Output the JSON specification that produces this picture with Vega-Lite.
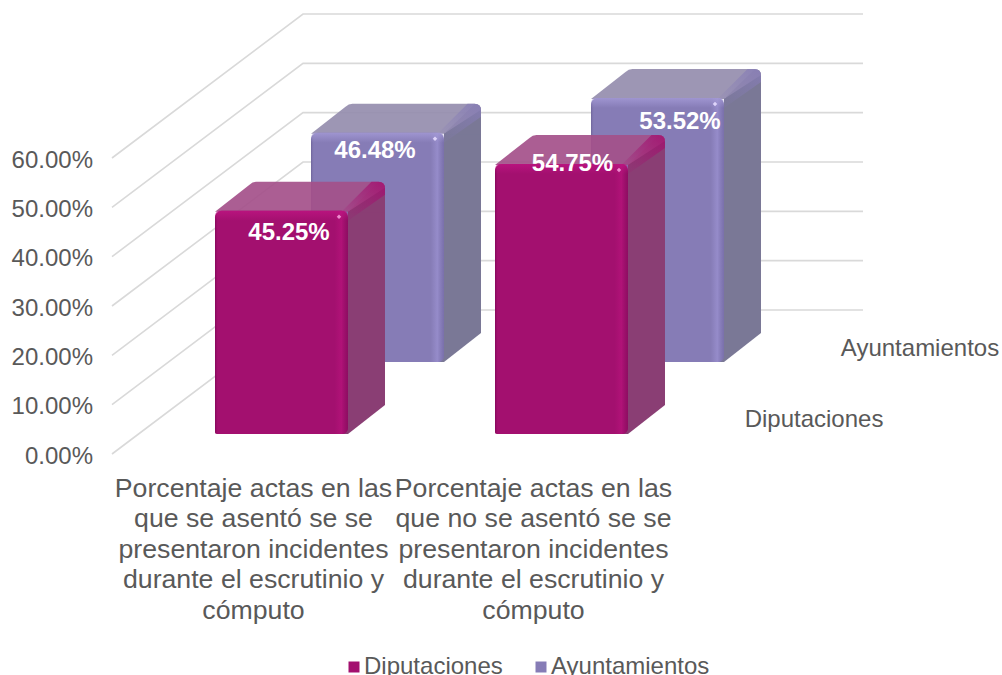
{"$schema":"https://vega.github.io/schema/vega-lite/v6.json","width":1002,"height":675,"padding":0,"autosize":"none","background":"#ffffff",
"config":{"view":{"stroke":null},"font":"Liberation Sans"},
"datasets":{"bars":[
{"category":"Porcentaje actas en las que se asentó se se presentaron incidentes durante el escrutinio y cómputo","series":"Diputaciones","value":0.4525},
{"category":"Porcentaje actas en las que no se asentó se se presentaron incidentes durante el escrutinio y cómputo","series":"Diputaciones","value":0.5475},
{"category":"Porcentaje actas en las que se asentó se se presentaron incidentes durante el escrutinio y cómputo","series":"Ayuntamientos","value":0.4648},
{"category":"Porcentaje actas en las que no se asentó se se presentaron incidentes durante el escrutinio y cómputo","series":"Ayuntamientos","value":0.5352}],
"grid":[{"tick":0},{"tick":0.1},{"tick":0.2},{"tick":0.3},{"tick":0.4},{"tick":0.5},{"tick":0.6}]},
"data":{"name":"bars"},
"encoding":{
"x":{"field":"category","type":"nominal","sort":null,"title":null,"scale":{"domain":["Porcentaje actas en las que se asentó se se presentaron incidentes durante el escrutinio y cómputo","Porcentaje actas en las que no se asentó se se presentaron incidentes durante el escrutinio y cómputo"],"type":"band","range":[141.5,701.5],"paddingInner":0,"paddingOuter":0},
"axis":{"domain":false,"ticks":false,"grid":false,"orient":"bottom","offset":-200,"labelAngle":0,"labelPadding":0,"labelBaseline":"top","labelAlign":"center","labelFont":"Liberation Sans","labelFontSize":26.7,"labelColor":"#595959","labelLineHeight":30.5,"labelOffset":-28,"labelLimit":0,"labelOverlap":false,"labelBound":false,"labelFlush":false,
"labelExpr":"indexof(datum.label,'no se')>=0 ? ['Porcentaje actas en las','que no se asentó se se','presentaron incidentes','durante el escrutinio y','cómputo'] : ['Porcentaje actas en las','que se asentó se se','presentaron incidentes','durante el escrutinio y','cómputo']"}},
"y":{"field":"value","type":"quantitative","title":null,"scale":{"domain":[0,0.6],"range":[454,158],"nice":false,"zero":false},
"axis":{"values":[0,0.1,0.2,0.3,0.4,0.5,0.6],"format":".2%","domain":false,"ticks":false,"grid":false,"offset":-92.5,"labelPadding":0,"labelOffset":2,"labelFont":"Liberation Sans","labelFontSize":24,"labelColor":"#595959","labelLimit":0,"labelOverlap":false,"labelBound":false,"labelFlush":false}}},
"layer":[
{"data":{"name":"grid"},"mark":{"type":"point","shape":"M0 0L191 -144L751 -144","size":4,"filled":false,"stroke":"#d9d9d9","strokeWidth":1.6,"opacity":1,"xOffset":-169.5},
"encoding":{"x":{"datum":"Porcentaje actas en las que se asentó se se presentaron incidentes durante el escrutinio y cómputo"},"y":{"field":"tick","type":"quantitative"}}},

{"transform":[{"filter":"datum.series=='Ayuntamientos'"}],"mark":{"type":"bar","width":37,"xOffset":181,"yOffset":-92,"y2Offset":-121,"fill":"#7a7896"},"encoding":{"y2":{"datum":0}}},
{"transform":[{"filter":"datum.series=='Ayuntamientos'"}],"mark":{"type":"point","shape":"M66.5 1L97 -28.5Q103.5 -29 103.5 -22L103.5 2L66.5 2Z","size":4,"filled":true,"fill":"#7a7896","opacity":1,"xOffset":96,"yOffset":-92}},
{"transform":[{"filter":"datum.series=='Ayuntamientos'"}],"mark":{"type":"point","shape":"M60 0L66.5 0L103.5 -29L103.5 -30L66.5 -30L60 -30Z","size":4,"filled":true,"fill":"#7a7896","opacity":1,"xOffset":96,"yOffset":-92},"encoding":{"y":{"datum":0}}},
{"transform":[{"filter":"datum.series=='Ayuntamientos'"}],"mark":{"type":"point","shape":"M-66.5 1L-32 -26Q-29 -29 -25 -29L97 -29Q103.5 -29 103.5 -23L66.5 1Z","size":4,"filled":true,"fill":"#958dae","opacity":0.92,"xOffset":96,"yOffset":-92}},
{"transform":[{"filter":"datum.series=='Ayuntamientos'"}],"mark":{"type":"point","shape":"M58 3L90 -29L97 -29Q103.5 -29 103.5 -22L103.5 -16L66.5 10L66.5 3Z","size":4,"filled":true,"opacity":1,"xOffset":96,"yOffset":-92,"fill":{"gradient":"linear","x1":0,"y1":1,"x2":1,"y2":0,"stops":[{"offset":0.2,"color":"rgba(134,124,182,0.15)"},{"offset":1,"color":"rgba(134,124,182,0.8)"}]}}},
{"transform":[{"filter":"datum.series=='Ayuntamientos'"}],"mark":{"type":"bar","width":133,"xOffset":96,"yOffset":-92,"y2Offset":-92,"cornerRadiusTopLeft":7,"cornerRadiusTopRight":7,"cornerRadiusBottomLeft":2,"cornerRadiusBottomRight":6},"encoding":{"y2":{"datum":0},"color":{"field":"series","type":"nominal","scale":{"domain":["Diputaciones","Ayuntamientos"],"range":["#a3106f","#867cb6"]},"legend":{"title":null,"orient":"none","legendX":342,"legendY":655,"direction":"horizontal","columns":2,"symbolType":"square","symbolSize":121,"symbolStrokeWidth":0,"labelFont":"Liberation Sans","labelFontSize":24,"labelColor":"#595959","labelLimit":0,"columnPadding":26,"labelOffset":-2,"symbolOffset":0}}}},
{"transform":[{"filter":"datum.series=='Ayuntamientos'"}],"mark":{"type":"bar","width":133,"xOffset":96,"yOffset":-92,"y2Offset":-92,"cornerRadiusTopLeft":7,"cornerRadiusTopRight":7,"cornerRadiusBottomLeft":2,"cornerRadiusBottomRight":6,"fill":{"gradient":"linear","x1":0,"x2":1,"y1":0,"y2":0,"stops":[{"offset":0,"color":"rgba(90,80,130,0.55)"},{"offset":0.025,"color":"rgba(134,124,182,0)"},{"offset":0.9,"color":"rgba(160,150,215,0)"},{"offset":0.95,"color":"rgba(160,150,215,0.6)"},{"offset":1,"color":"rgba(110,100,160,0.5)"}]}},"encoding":{"y2":{"datum":0}}},
{"transform":[{"filter":"datum.series=='Ayuntamientos'"}],"mark":{"type":"bar","width":133,"xOffset":96,"yOffset":-92,"y2Offset":-82,"cornerRadiusTopLeft":7,"cornerRadiusTopRight":7,"fill":{"gradient":"linear","x1":0,"x2":0,"y1":0,"y2":1,"stops":[{"offset":0,"color":"rgba(165,155,215,0.8)"},{"offset":1,"color":"rgba(165,155,215,0)"}]}},"encoding":{"y2":{"field":"value"}}},
{"transform":[{"filter":"datum.series=='Ayuntamientos'"}],"mark":{"type":"point","shape":"diamond","size":20,"filled":true,"fill":"#e6dcff","opacity":0.9,"xOffset":153.5,"yOffset":-86}},

{"transform":[{"filter":"datum.series=='Diputaciones'"}],"mark":{"type":"bar","width":37,"xOffset":85,"yOffset":-20,"y2Offset":-49,"fill":"#8a3e74"},"encoding":{"y2":{"datum":0}}},
{"transform":[{"filter":"datum.series=='Diputaciones'"}],"mark":{"type":"point","shape":"M66.5 1L97 -28.5Q103.5 -29 103.5 -22L103.5 2L66.5 2Z","size":4,"filled":true,"fill":"#8a3e74","opacity":1,"yOffset":-20}},
{"transform":[{"filter":"datum.series=='Diputaciones'"}],"mark":{"type":"point","shape":"M60 0L66.5 0L103.5 -29L103.5 -30L66.5 -30L60 -30Z","size":4,"filled":true,"fill":"#8a3e74","opacity":1,"yOffset":-20},"encoding":{"y":{"datum":0}}},
{"transform":[{"filter":"datum.series=='Diputaciones'"}],"mark":{"type":"point","shape":"M-66.5 1L-32 -26Q-29 -29 -25 -29L97 -29Q103.5 -29 103.5 -23L66.5 1Z","size":4,"filled":true,"fill":"#a4508a","opacity":0.92,"yOffset":-20}},
{"transform":[{"filter":"datum.series=='Diputaciones'"}],"mark":{"type":"point","shape":"M58 3L90 -29L97 -29Q103.5 -29 103.5 -22L103.5 -16L66.5 10L66.5 3Z","size":4,"filled":true,"opacity":1,"yOffset":-20,"fill":{"gradient":"linear","x1":0,"y1":1,"x2":1,"y2":0,"stops":[{"offset":0.2,"color":"rgba(163,16,111,0.15)"},{"offset":1,"color":"rgba(163,16,111,0.85)"}]}}},
{"transform":[{"filter":"datum.series=='Diputaciones'"}],"mark":{"type":"bar","width":133,"yOffset":-20,"y2Offset":-20,"cornerRadiusTopLeft":7,"cornerRadiusTopRight":7,"cornerRadiusBottomLeft":2,"cornerRadiusBottomRight":6},"encoding":{"y2":{"datum":0},"color":{"field":"series","type":"nominal"}}},
{"transform":[{"filter":"datum.series=='Diputaciones'"}],"mark":{"type":"bar","width":133,"yOffset":-20,"y2Offset":-20,"cornerRadiusTopLeft":7,"cornerRadiusTopRight":7,"cornerRadiusBottomLeft":2,"cornerRadiusBottomRight":6,"fill":{"gradient":"linear","x1":0,"x2":1,"y1":0,"y2":0,"stops":[{"offset":0,"color":"rgba(110,0,75,0.6)"},{"offset":0.025,"color":"rgba(163,16,111,0)"},{"offset":0.9,"color":"rgba(185,20,125,0)"},{"offset":0.95,"color":"rgba(185,20,125,0.6)"},{"offset":1,"color":"rgba(120,10,85,0.5)"}]}},"encoding":{"y2":{"datum":0}}},
{"transform":[{"filter":"datum.series=='Diputaciones'"}],"mark":{"type":"bar","width":133,"yOffset":-20,"y2Offset":-10,"cornerRadiusTopLeft":7,"cornerRadiusTopRight":7,"fill":{"gradient":"linear","x1":0,"x2":0,"y1":0,"y2":1,"stops":[{"offset":0,"color":"rgba(190,20,130,0.8)"},{"offset":1,"color":"rgba(190,20,130,0)"}]}},"encoding":{"y2":{"field":"value"}}},
{"transform":[{"filter":"datum.series=='Diputaciones'"}],"mark":{"type":"point","shape":"diamond","size":20,"filled":true,"fill":"#f59ad8","opacity":0.9,"xOffset":57.5,"yOffset":-14}},

{"transform":[{"filter":"datum.series=='Diputaciones' && datum.value<0.5"}],"mark":{"type":"text","font":"Liberation Sans","fontSize":24,"fontWeight":"bold","fill":"#ffffff","align":"center","baseline":"middle","xOffset":7.5,"yOffset":2},"encoding":{"text":{"field":"value","type":"quantitative","format":".2%"}}},
{"transform":[{"filter":"datum.series=='Ayuntamientos' && datum.value<0.5"}],"mark":{"type":"text","font":"Liberation Sans","fontSize":24,"fontWeight":"bold","fill":"#ffffff","align":"center","baseline":"middle","xOffset":93.5,"yOffset":-74},"encoding":{"text":{"field":"value","type":"quantitative","format":".2%"}}},
{"transform":[{"filter":"datum.series=='Ayuntamientos' && datum.value>0.5"}],"mark":{"type":"text","font":"Liberation Sans","fontSize":24,"fontWeight":"bold","fill":"#ffffff","align":"center","baseline":"middle","xOffset":118.5,"yOffset":-68},"encoding":{"text":{"field":"value","type":"quantitative","format":".2%"}}},
{"transform":[{"filter":"datum.series=='Diputaciones' && datum.value>0.5"}],"mark":{"type":"text","font":"Liberation Sans","fontSize":24,"fontWeight":"bold","fill":"#ffffff","align":"center","baseline":"middle","xOffset":11,"yOffset":-20},"encoding":{"text":{"field":"value","type":"quantitative","format":".2%"}}},
{"transform":[{"filter":"datum.series=='Diputaciones' && datum.value>0.5"}],"mark":{"type":"text","font":"Liberation Sans","fontSize":24,"fill":"#595959","align":"center","baseline":"middle","xOffset":252.5,"yOffset":-34},"encoding":{"y":{"datum":0},"text":{"field":"series","type":"nominal"}}},
{"transform":[{"filter":"datum.series=='Ayuntamientos' && datum.value>0.5"}],"mark":{"type":"text","font":"Liberation Sans","fontSize":24,"fill":"#595959","align":"center","baseline":"middle","xOffset":358.5,"yOffset":-105},"encoding":{"y":{"datum":0},"text":{"field":"series","type":"nominal"}}}
]}
